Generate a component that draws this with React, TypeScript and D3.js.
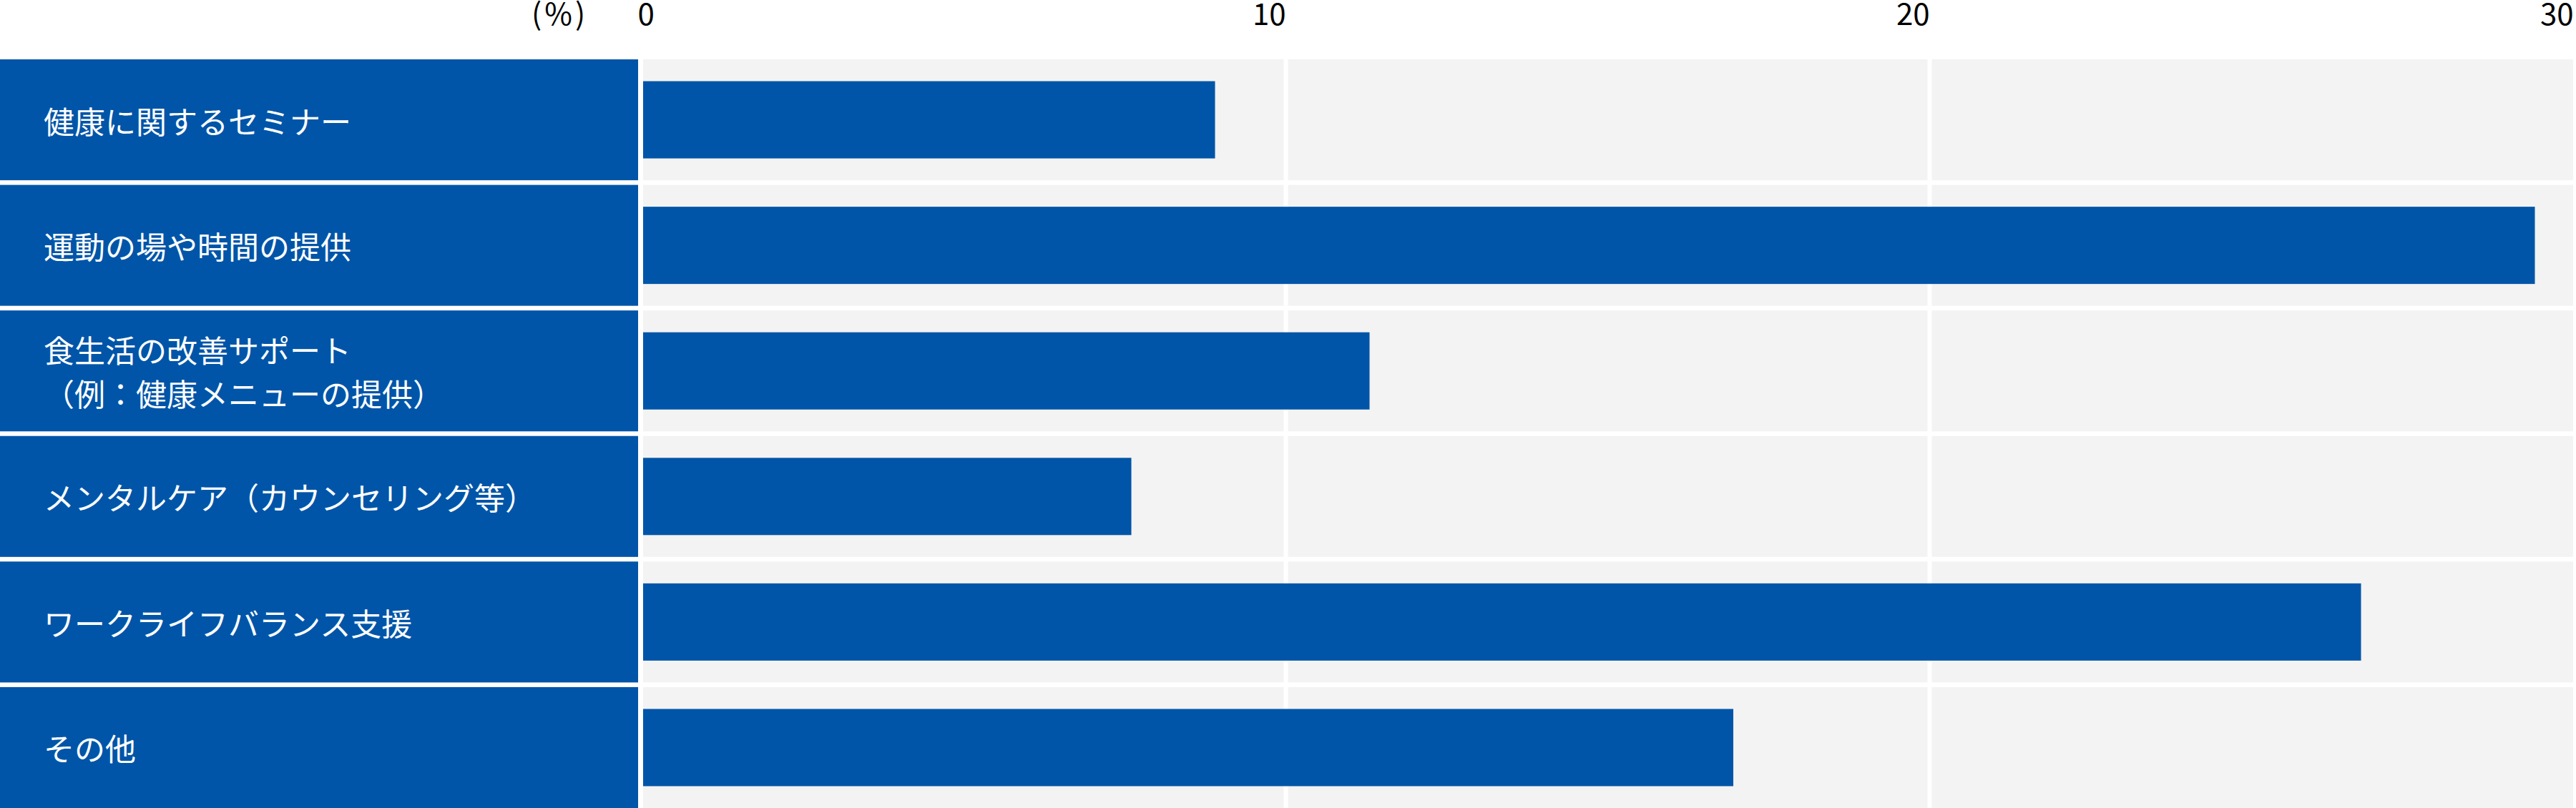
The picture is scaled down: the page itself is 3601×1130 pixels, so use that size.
import React from "react";
import * as d3 from "d3";

const categories: string[] = [
  "健康に関するセミナー",
  "運動の場や時間の提供",
  "食生活の改善サポート\n（例：健康メニューの提供）",
  "メンタルケア（カウンセリング等）",
  "ワークライフバランス支援",
  "その他",
];

const values: number[] = [8.9, 29.4, 11.3, 7.6, 26.7, 16.95];

const ticks: number[] = [0, 10, 20, 30];
const unitLabel = "(%)";

const W = 3601;
const H = 1130;
const BLUE = "#0055A8";
const BG = "#F3F3F3";
const FONT = "'Noto Sans CJK JP', 'Noto Sans', sans-serif";

export default function App() {
  const x = d3.scaleLinear().domain([0, 30]).range([897.5, 3597.5]);
  const y = d3
    .scaleBand<string>()
    .domain(categories)
    .range([83, 1130])
    .paddingInner(0.037)
    .paddingOuter(0);
  const bw = y.bandwidth();
  const barH = 108;
  const labelRight = 892;
  const x0 = x(0) + 1.5;
  const xEnd = x(30) - 0.5;

  return (
    <svg
      width={W}
      height={H}
      style={{ position: "absolute", left: 0, top: 0, display: "block", background: "#fff" }}
      fontFamily={FONT}
    >
      {/* axis labels */}
      <text x={743} y={35} fontSize={42} textAnchor="start" fill="#000" letterSpacing={4}>
        {unitLabel}
      </text>
      {ticks.map((t, i) => (
        <text
          key={t}
          x={i === 0 ? x(t) - 6 : x(t)}
          y={35}
          fontSize={42}
          textAnchor={i === 0 ? "start" : "end"}
          fill="#000"
        >
          {t}
        </text>
      ))}

      {/* rows */}
      {categories.map((c) => {
        const top = y(c)!;
        return (
          <g key={c}>
            <rect x={0} y={top} width={labelRight} height={bw} fill={BLUE} />
            <rect x={x0} y={top} width={xEnd - x0} height={bw} fill={BG} />
          </g>
        );
      })}

      {/* gridlines */}
      {ticks
        .filter((t) => t > 0 && t < 30)
        .map((t) => (
          <line key={t} x1={x(t)} x2={x(t)} y1={83} y2={H} stroke="#fff" strokeWidth={6} />
        ))}

      {/* bars */}
      {categories.map((c, i) => {
        const top = y(c)! + (bw - barH) / 2;
        return (
          <rect key={c} x={x0} y={top} width={x(values[i]) - x0} height={barH} fill={BLUE} />
        );
      })}

      {/* labels */}
      {categories.map((c) => {
        const lines = c.split("\n");
        const cy = y(c)! + bw / 2;
        const lh = 61;
        const startY = cy - ((lines.length - 1) * lh) / 2;
        return (
          <text key={c} x={61} fontSize={43} fill="#fff" dominantBaseline="central">
            {lines.map((l, j) => (
              <tspan key={j} x={61} y={startY + j * lh}>
                {l}
              </tspan>
            ))}
          </text>
        );
      })}
    </svg>
  );
}
